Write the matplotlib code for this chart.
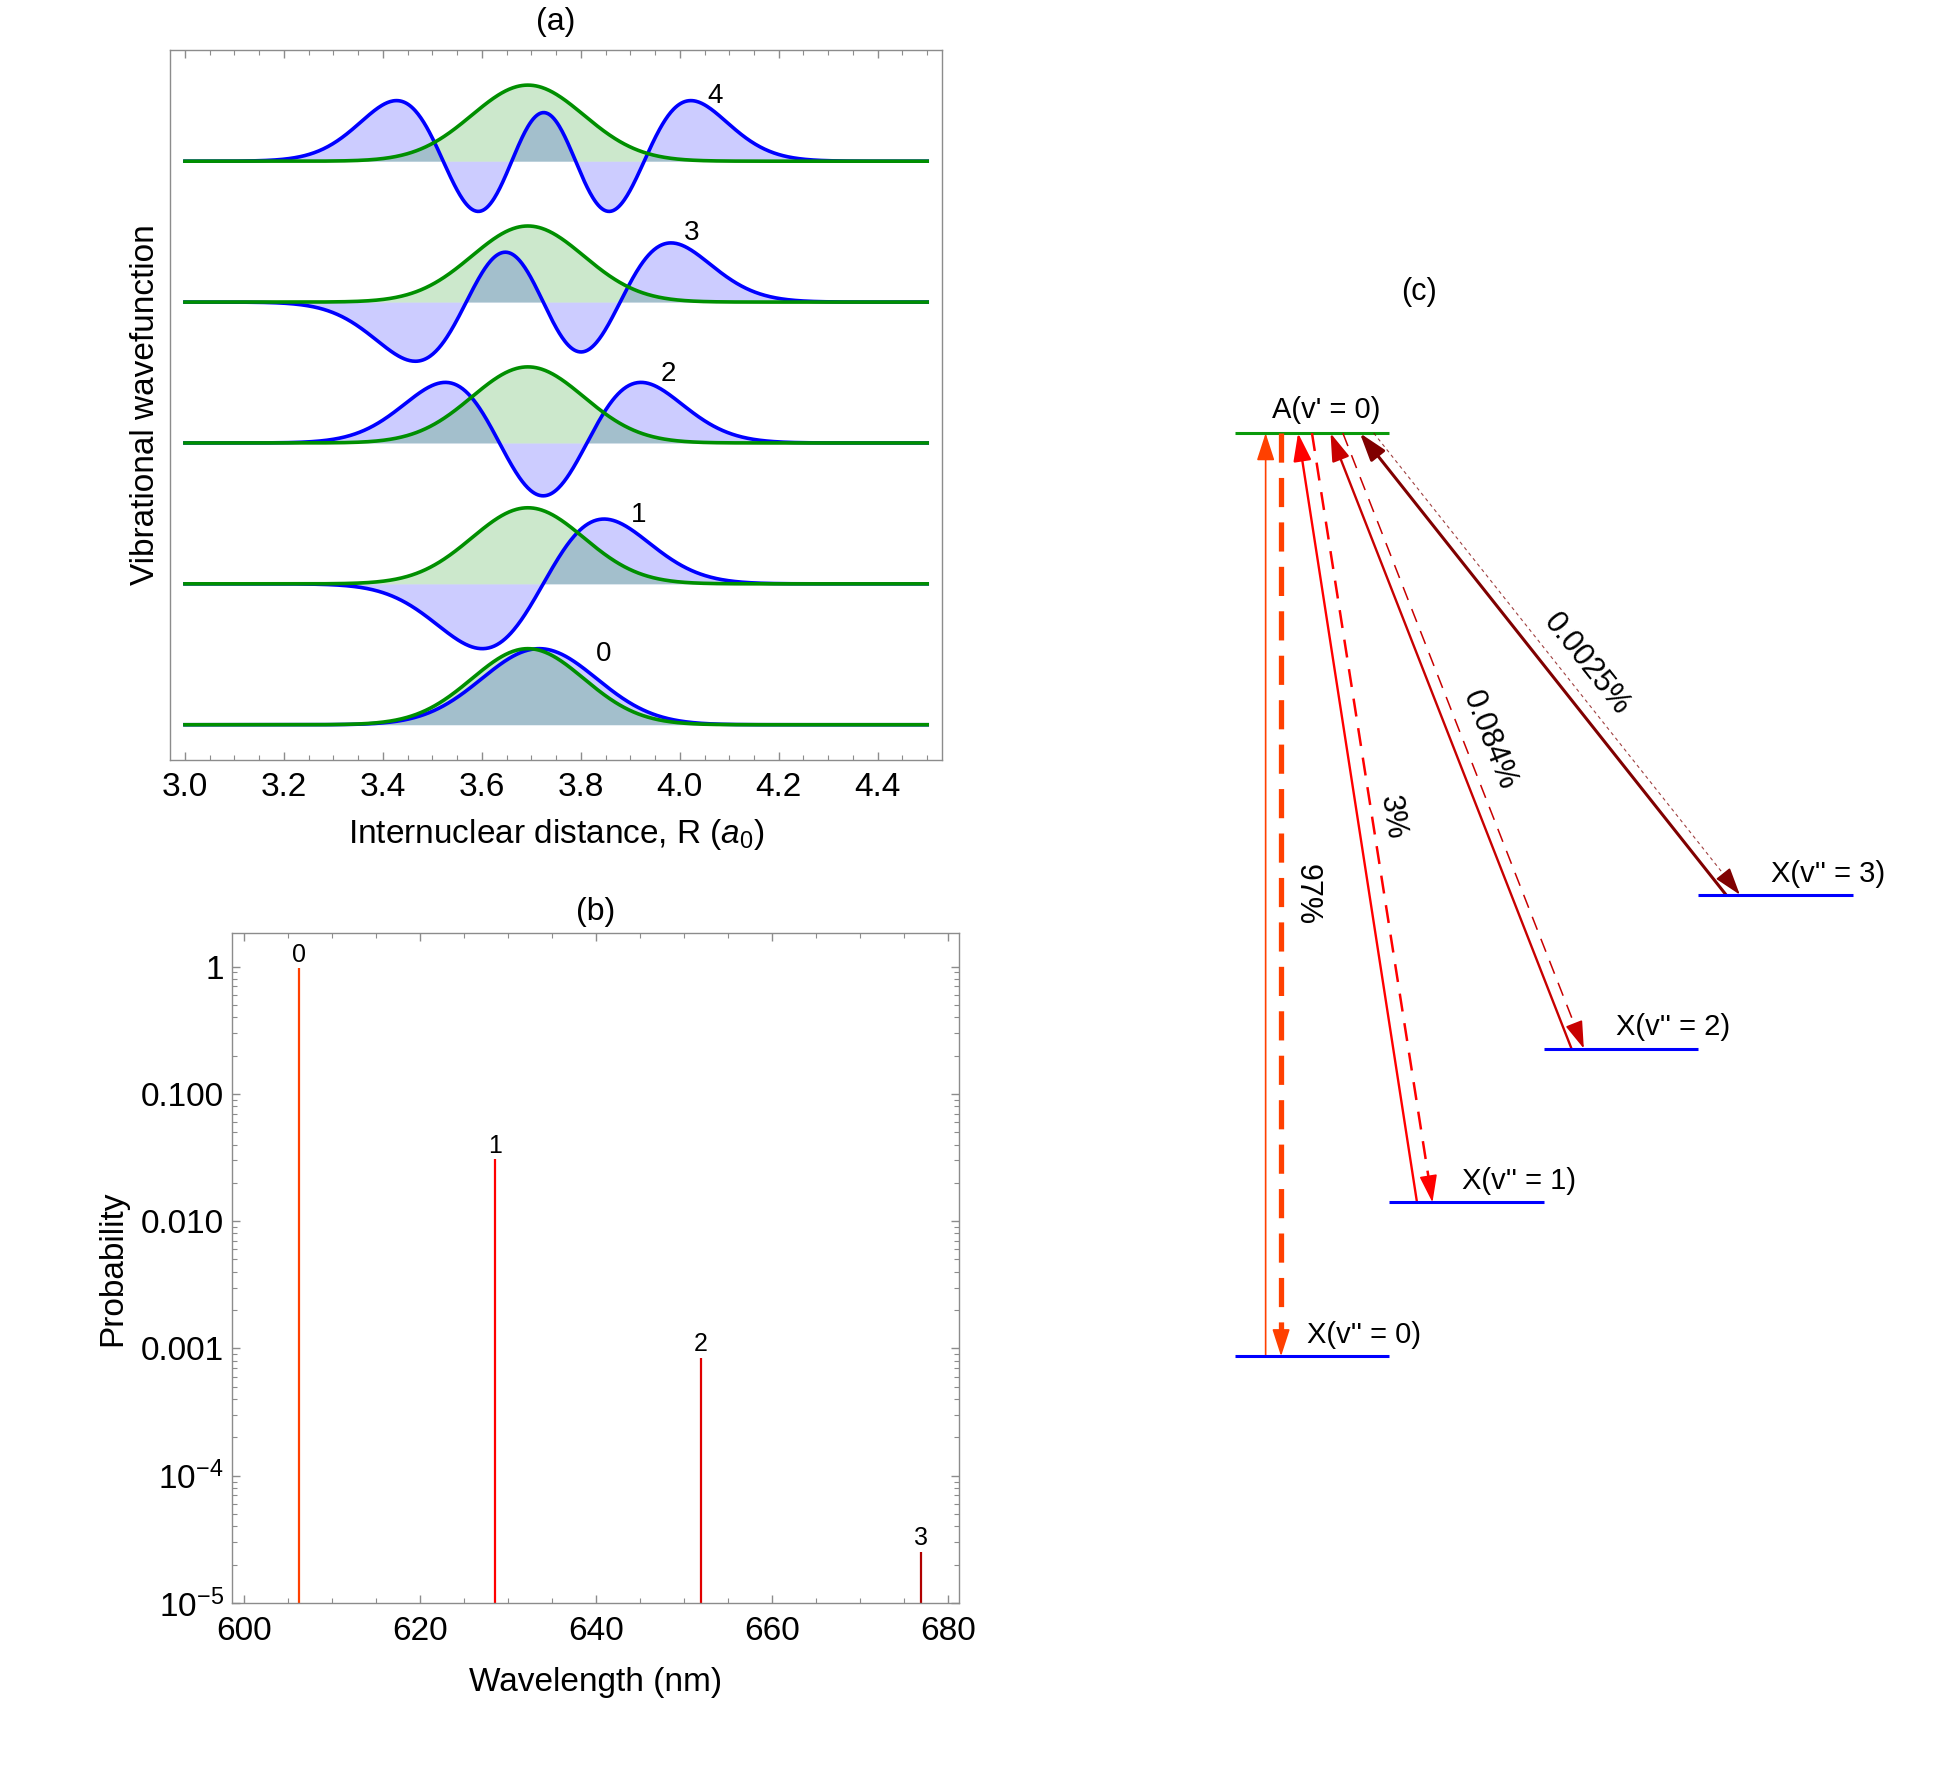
import numpy as np
import matplotlib
matplotlib.use("Agg")
import matplotlib.pyplot as plt
from matplotlib.patches import FancyArrowPatch
from matplotlib.ticker import MultipleLocator, LogLocator, NullFormatter, FixedLocator, FixedFormatter
from numpy.polynomial.hermite import hermval

plt.rcParams['font.family'] = ['Liberation Sans', 'DejaVu Sans']
plt.rcParams['mathtext.fontset'] = 'custom'
plt.rcParams['mathtext.rm'] = 'Liberation Sans'
plt.rcParams['mathtext.it'] = 'Liberation Sans:italic'
plt.rcParams['lines.scale_dashes'] = False

# ---- (a) vibrational wavefunctions (parameters) ----
levels = [0, 1, 2, 3, 4]
x_center = [3.716, 3.724, 3.724, 3.724, 3.725]   # X state, v'' = 0..4
x_width = [0.116, 0.123, 0.125, 0.127, 0.123]
x_amp = [0.54, 0.46, 0.43, 0.42, 0.43]
a_center = 3.693                                  # A state, v' = 0
a_width = 0.113
a_amp = 0.54
label_x = [3.846, 3.917, 3.977, 4.024, 4.072]
label_h = [0.50, 0.49, 0.49, 0.49, 0.46]

# ---- (b) decay probabilities ----
wavelength = [606.2, 628.5, 651.9, 676.9]
probability = [0.97, 0.0307, 8.45e-4, 2.54e-5]
line_colors = ['#ff4000', '#ff0000', '#e00000', '#b00000']

# ---- (c) level diagram ----
pct_labels = ['97%', '3%', '0.084%', '0.0025%']
arrow_colors = ['#ff4000', '#ff0000', '#c80000', '#800000']
x_levels = [0, 1, 2, 3]
a_level = 6

GREEN = '#008f00'
FRAME = '#8c8c8c'

fig = plt.figure(figsize=(19.46, 17.69), dpi=100)


def style_frame(ax):
    for s in ax.spines.values():
        s.set_color(FRAME)
        s.set_linewidth(1.0)
    ax.tick_params(which='both', direction='in', color=FRAME, labelsize=24,
                   top=True, right=True)
    ax.tick_params(which='major', length=6, width=1.0)
    ax.tick_params(which='minor', length=3.5, width=0.8)


# ================= (a) =================
ax_a = fig.add_axes([0.0874, 0.5704, 0.3967, 0.4014])
R = np.linspace(3.0, 4.5, 800)


def wavefunction(n, c, w, amp):
    xi = (R - c) / w
    coef = np.zeros(n + 1)
    coef[n] = 1
    psi = hermval(xi, coef) * np.exp(-xi ** 2 / 2)
    return amp * psi / np.abs(psi).max()


green = wavefunction(0, a_center, a_width, a_amp)
for v in levels:
    blue = wavefunction(v, x_center[v], x_width[v], x_amp[v])
    ax_a.fill_between(R, v, v + blue, color='blue', alpha=0.2, lw=0)
    ax_a.fill_between(R, v, v + green, color=GREEN, alpha=0.2, lw=0)
    ax_a.plot(R, v + blue, color='blue', lw=2.6)
    ax_a.plot(R, v + green, color=GREEN, lw=2.6)
    ax_a.text(label_x[v], v + label_h[v], str(v), ha='center', va='center', fontsize=20)

ax_a.set_xlim(2.97, 4.53)
ax_a.set_ylim(-0.25, 4.79)
style_frame(ax_a)
ax_a.xaxis.set_major_locator(MultipleLocator(0.2))
ax_a.xaxis.set_minor_locator(MultipleLocator(0.05))
ax_a.xaxis.set_major_formatter(matplotlib.ticker.FormatStrFormatter('%.1f'))
ax_a.set_yticks([])
ax_a.tick_params(axis='x', pad=9)
ax_a.set_xlabel(r'Internuclear distance, R ($\mathit{a}_0$)', fontsize=24)
ax_a.xaxis.set_label_coords(0.5, -0.08)
ax_a.set_ylabel('Vibrational wavefunction', fontsize=24)
ax_a.yaxis.set_label_coords(-0.012, 0.5)
ax_a.text(0.5, 1.039, '(a)', transform=ax_a.transAxes, ha='center', va='center', fontsize=23)

# ================= (b) =================
ax_b = fig.add_axes([0.1192, 0.0938, 0.3736, 0.3787])
ax_b.set_yscale('log')
ax_b.vlines(wavelength, 1e-5, probability, colors=line_colors, lw=1.6)
for i, (wl, p) in enumerate(zip(wavelength, probability)):
    ax_b.text(wl, p * 1.03, str(i), ha='center', va='bottom', fontsize=18)
ax_b.set_xlim(598.6, 681.2)
ax_b.set_ylim(1e-5, 1.83)
style_frame(ax_b)
ax_b.xaxis.set_major_locator(MultipleLocator(20))
ax_b.xaxis.set_minor_locator(MultipleLocator(5))
ax_b.yaxis.set_major_locator(FixedLocator([1e-5, 1e-4, 1e-3, 1e-2, 1e-1, 1]))
ax_b.yaxis.set_major_formatter(FixedFormatter([r'$\mathregular{10^{-5}}$', r'$\mathregular{10^{-4}}$',
                                               '0.001', '0.010', '0.100', '1']))
ax_b.yaxis.set_minor_locator(LogLocator(base=10, subs=np.arange(2, 10), numticks=20))
ax_b.yaxis.set_minor_formatter(NullFormatter())
ax_b.tick_params(axis='x', pad=9)
ax_b.tick_params(axis='y', pad=6)
ax_b.set_xlabel('Wavelength (nm)', fontsize=24)
ax_b.xaxis.set_label_coords(0.5, -0.095)
ax_b.set_ylabel('Probability', fontsize=24)
ax_b.yaxis.set_label_coords(-0.143, 0.5)
ax_b.text(0.5, 1.031, '(b)', transform=ax_b.transAxes, ha='center', va='center', fontsize=23)

# ================= (c) =================
ax_c = fig.add_axes([0.6122, 0.2074, 0.3698, 0.6523])
ax_c.set_xlim(-0.281, 4.378)
ax_c.set_ylim(-0.298, 7.202)
ax_c.axis('off')

ax_c.hlines(a_level, 0, 1, color='#0a9a0a', lw=2.2)
ax_c.hlines(x_levels, x_levels, [x + 1 for x in x_levels], color='blue', lw=2.2)
ax_c.text(0.59, a_level + 0.15, "A(v' = 0)", ha='center', va='center', fontsize=21)
for v in x_levels:
    ax_c.text(v + 0.84, v + 0.137, "X(v'' = %d)" % v, ha='center', va='center', fontsize=21)
ax_c.text(1.19, 6.92, '(c)', ha='center', va='center', fontsize=22)

up_bottom = [0.2, 1.18, 2.18, 3.18]
up_top = [0.2, 0.41, 0.62, 0.81]
dn_top = [0.3, 0.5, 0.7, 0.9]
dn_bottom = [0.3, 1.28, 2.26, 3.27]
up_lw = [1.2, 1.7, 1.7, 2.2]
dn_lw = [3.8, 1.8, 1.1, 0.8]
dn_dash = [(21, 11), (13, 8.5), (10, 7), (2.5, 2.5)]
dn_alpha = [1, 1, 1, 0.75]
pct_xy = [(0.466, 3.0), (1.02, 3.5), (1.65, 4.0), (2.28, 4.5)]
head = '-|>,head_length=17,head_width=5.5'
head_px = 23

to_disp = ax_c.transData.transform
to_data = ax_c.transData.inverted().transform

for i in range(4):
    c = arrow_colors[i]
    ax_c.add_patch(FancyArrowPatch((up_bottom[i], x_levels[i]), (up_top[i], a_level),
                                   arrowstyle=head, mutation_scale=1, color=c, lw=up_lw[i],
                                   shrinkA=0, shrinkB=0))
    p0 = to_disp((dn_top[i], a_level))
    p1 = to_disp((dn_bottom[i], x_levels[i]))
    u = (p1 - p0) / np.hypot(*(p1 - p0))
    stop = to_data(p1 - u * head_px)
    ax_c.plot([dn_top[i], stop[0]], [a_level, stop[1]], color=c, lw=dn_lw[i],
              dashes=dn_dash[i], alpha=dn_alpha[i], solid_capstyle='butt', dash_capstyle='butt')
    ax_c.add_patch(FancyArrowPatch(tuple(stop), (dn_bottom[i], x_levels[i]),
                                   arrowstyle=head, mutation_scale=1, color=c, lw=1.2,
                                   shrinkA=0, shrinkB=0))
    ang = np.degrees(np.arctan2(u[1], u[0]))
    ax_c.text(pct_xy[i][0], pct_xy[i][1], pct_labels[i], rotation=ang, rotation_mode='anchor',
              ha='center', va='center', fontsize=22)

fig.savefig('out.png', dpi=100)
